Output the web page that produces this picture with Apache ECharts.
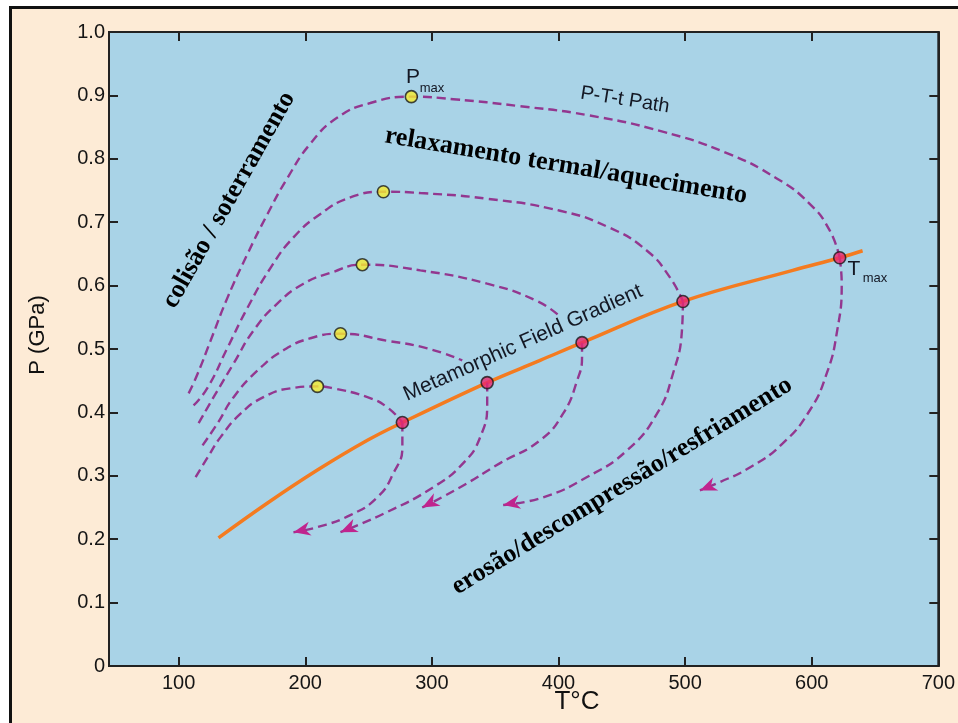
<!DOCTYPE html>
<html>
<head>
<meta charset="utf-8">
<script src="https://cdn.jsdelivr.net/npm/echarts@6/dist/echarts.min.js"></script>
<style>
  html, body { margin: 0; padding: 0; background: #ffffff; overflow: hidden; }
  #chart { width: 958px; height: 723px; }
</style>
</head>
<body>
<div id="chart"></div>
<script>
// ---- axis ticks / labels ----
const xTickValues = [100, 200, 300, 400, 500, 600];
const xLabelValues = [100, 200, 300, 400, 500, 600, 700];

// ---- Metamorphic field gradient (T °C, P GPa) ----
const gradient = [[131.5,0.202],[170.2,0.257],[209.6,0.309],[249.1,0.356],[276.7,0.384],[343.7,0.447],[385.5,0.482],[418.6,0.510],[498.3,0.575],[585.0,0.624],[622.1,0.644],[640.2,0.655]];

// ---- P-T-t paths: prograde (burial + heating) ----
const prograde1 = [[107.9,0.430],[115.0,0.461],[125.2,0.513],[138.6,0.581],[154.4,0.650],[170.2,0.713],[186.0,0.770],[204.1,0.824],[225.4,0.865],[251.4,0.888],[283.8,0.898],[316.9,0.894],[369.7,0.883],[422.6,0.869],[480.1,0.844],[533.0,0.809],[572.4,0.769],[598.4,0.729],[614.2,0.687],[622.1,0.644]];
const prograde2 = [[111.8,0.411],[122.9,0.439],[138.6,0.502],[154.4,0.565],[172.6,0.628],[190.7,0.676],[212.0,0.713],[235.6,0.739],[261.7,0.748],[290.9,0.746],[343.7,0.737],[401.3,0.718],[440.7,0.691],[469.9,0.655],[488.0,0.613],[498.3,0.575]];
const prograde3 = [[115.8,0.383],[127.6,0.424],[143.4,0.477],[159.1,0.529],[178.1,0.572],[198.6,0.603],[219.9,0.620],[245.1,0.633],[290.9,0.624],[343.7,0.603],[382.8,0.576],[401.3,0.551]];
const prograde4 = [[118.9,0.348],[130.8,0.383],[143.4,0.424],[162.3,0.466],[182.8,0.498],[204.1,0.517],[227.8,0.524],[264.8,0.513],[296.4,0.501],[324.0,0.482]];
const prograde5 = [[113.4,0.298],[122.9,0.329],[133.1,0.361],[148.9,0.398],[167.0,0.424],[188.3,0.438],[209.6,0.441],[222.2,0.438],[249.1,0.424],[264.8,0.408],[276.7,0.384]];

// ---- P-T-t paths: retrograde (erosion / decompression / cooling) ----
const retrograde1 = [[622.1,0.644],[623.7,0.603],[619.7,0.524],[611.8,0.461],[598.4,0.403],[577.1,0.351],[551.1,0.313],[525.1,0.288],[511.7,0.277]];
const retrograde2 = [[498.3,0.575],[497.5,0.529],[490.4,0.461],[477.8,0.398],[454.1,0.340],[422.6,0.298],[387.9,0.266],[356.3,0.254]];
const retrograde3 = [[418.6,0.510],[418.6,0.487],[414.7,0.450],[403.6,0.398],[385.5,0.356],[353.9,0.320],[322.4,0.282],[292.4,0.250]];
const retrograde4 = [[343.7,0.447],[343.7,0.414],[338.2,0.361],[324.8,0.320],[301.1,0.282],[264.8,0.243],[227.8,0.211]];
const retrograde5 = [[276.7,0.384],[276.7,0.345],[269.6,0.304],[256.9,0.266],[235.6,0.238],[209.6,0.219],[190.7,0.211]];

// ---- key points ----
const pmaxPoints = [[283.8,0.898],[261.7,0.748],[245.1,0.633],[227.8,0.524],[209.6,0.441]];
const tmaxPoints = [[622.1,0.644],[498.3,0.575],[418.6,0.510],[343.7,0.447],[276.7,0.384]];

// ---------------------------------------------------------------
const PURPLE = '#93378F';
const ARROW = '#C0248E';
const progrades = [prograde1, prograde2, prograde3, prograde4, prograde5];
const retrogrades = [retrograde1, retrograde2, retrograde3, retrograde4, retrograde5];

function dashed(data) {
  return {
    type: 'line', data: data, smooth: 0.5, showSymbol: false, silent: true,
    lineStyle: { color: PURPLE, width: 2.4, type: [9, 5] }, z: 3
  };
}

const series = [];
series.push({
  type: 'line', data: gradient, smooth: 0.4, showSymbol: false, silent: true,
  lineStyle: { color: '#F47B20', width: 3.5 }, z: 2
});
progrades.forEach(d => series.push(dashed(d)));
retrogrades.forEach(d => series.push(dashed(d)));

const arrowData = retrogrades.map(d => {
  const n = d.length;
  return [d[n - 1][0], d[n - 1][1], d[n - 2][0], d[n - 2][1]];
});
series.push({
  type: 'custom', data: arrowData, z: 4, silent: true,
  renderItem: function (params, api) {
    const tip = api.coord([api.value(0), api.value(1)]);
    const prev = api.coord([api.value(2), api.value(3)]);
    const a = Math.atan2(tip[1] - prev[1], tip[0] - prev[0]);
    const L = 17, W = 7, N = 5;
    const c = Math.cos(a), s = Math.sin(a);
    const bx = tip[0] - L * c, by = tip[1] - L * s;
    const nx = tip[0] - (L - N) * c, ny = tip[1] - (L - N) * s;
    return {
      type: 'polygon',
      shape: { points: [tip, [bx - W * s, by + W * c], [nx, ny], [bx + W * s, by - W * c]] },
      style: { fill: ARROW }
    };
  }
});
series.push({
  type: 'scatter', data: pmaxPoints, symbol: 'circle', symbolSize: 12, z: 5, silent: true,
  itemStyle: { color: '#F6EC2E', borderColor: '#1a1a1a', borderWidth: 1.6 }
});
series.push({
  type: 'scatter', data: tmaxPoints, symbol: 'circle', symbolSize: 12, z: 5, silent: true,
  itemStyle: { color: '#E8286F', borderColor: '#1a1a1a', borderWidth: 1.6 }
});

const sans = 'Liberation Sans, Arial, Helvetica, sans-serif';
const serif = 'Liberation Serif, Times New Roman, serif';
const deg = Math.PI / 180;

function txt(text, x, y, rotDeg, font, extra) {
  return {
    type: 'text', x: x, y: y, rotation: rotDeg * deg, z: 100, silent: true,
    style: Object.assign({ text: text, font: font, fill: '#111', align: 'center', verticalAlign: 'middle' }, extra || {})
  };
}

const axisLineStyle = { color: '#222222', width: 2 };
const tickStyle = { color: '#222222', width: 2 };

const option = {
  animation: false,
  backgroundColor: '#ffffff',
  grid: {
    left: 109, right: 19, top: 32, bottom: 57, containLabel: false,
    show: true, backgroundColor: '#A9D3E7', borderColor: '#222222', borderWidth: 2
  },
  xAxis: [
    {
      type: 'value', position: 'bottom', min: 45, max: 700,
      axisLine: { show: true, lineStyle: axisLineStyle },
      axisTick: { show: true, inside: true, length: 9, lineStyle: tickStyle, customValues: xTickValues },
      axisLabel: { show: true, customValues: xLabelValues, margin: 7, color: '#151515', fontSize: 20, fontFamily: sans },
      splitLine: { show: false }
    },
    {
      type: 'value', position: 'top', min: 45, max: 700,
      axisLine: { show: true, onZero: false, lineStyle: axisLineStyle },
      axisTick: { show: true, inside: true, length: 9, lineStyle: tickStyle, customValues: xTickValues },
      axisLabel: { show: false },
      splitLine: { show: false }
    }
  ],
  yAxis: [
    {
      type: 'value', position: 'left', min: 0, max: 1, interval: 0.1,
      axisLine: { show: true, onZero: false, lineStyle: axisLineStyle },
      axisTick: { show: true, inside: true, length: 9, lineStyle: tickStyle },
      axisLabel: {
        show: true, margin: 4, color: '#151515', fontSize: 20, fontFamily: sans,
        formatter: v => (Math.abs(v) < 1e-9 ? '0' : v.toFixed(1))
      },
      splitLine: { show: false }
    },
    {
      type: 'value', position: 'right', min: 0, max: 1, interval: 0.1,
      axisLine: { show: true, onZero: false, lineStyle: axisLineStyle },
      axisTick: { show: true, inside: true, length: 9, lineStyle: tickStyle },
      axisLabel: { show: false },
      splitLine: { show: false }
    }
  ],
  graphic: [
    { type: 'rect', z: -10, silent: true,
      shape: { x: 10.5, y: 7.5, width: 1100, height: 1100 },
      style: { fill: '#FDEBD6', stroke: '#111111', lineWidth: 3 } },
    txt('P (GPa)', 38, 335, 90, '22px ' + sans),
    txt('T\u00B0C', 577, 702, 0, '26px ' + sans),
    txt('colis\u00E3o / soterramento', 229, 200, 60.5, 'bold 26px ' + serif, { fill: '#000' }),
    txt('relaxamento termal/aquecimento', 566, 166, -9.5, 'bold 26px ' + serif, { fill: '#000' }),
    txt('eros\u00E3o/descompress\u00E3o/resfriamento', 622, 486, 31.5, 'bold 26px ' + serif, { fill: '#000' }),
    txt('P-T-t Path', 625, 100, -9, '20px ' + sans, { fill: '#141824' }),
    txt('Metamorphic Field Gradient', 523, 343, 24, '21px ' + sans, { fill: '#141824' }),
    txt('P', 413, 77, 0, '21px ' + sans, { fill: '#141824' }),
    txt('max', 432, 88, 0, '13px ' + sans, { fill: '#141824' }),
    txt('T', 854, 269, 0, '21px ' + sans, { fill: '#141824' }),
    txt('max', 875, 278, 0, '13px ' + sans, { fill: '#141824' })
  ],
  series: series
};

const chart = echarts.init(document.getElementById('chart'), null, { renderer: 'canvas' });
chart.setOption(option);
</script>
</body>
</html>
